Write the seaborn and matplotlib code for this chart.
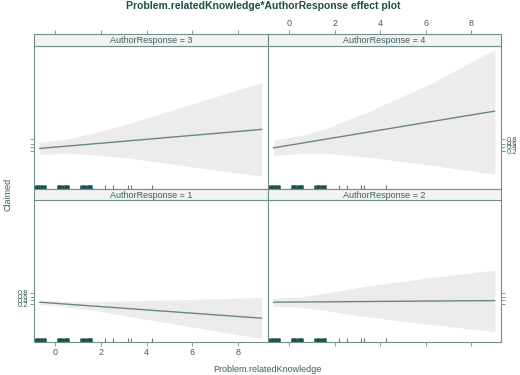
import numpy as np
import pandas as pd
import matplotlib
matplotlib.use("Agg")
import matplotlib.pyplot as plt
import seaborn as sns

# 効果プロットの値 (ロジット尺度で読み取り)
knowledge = [-0.68, 0.5, 1.6, 3.3, 6.2, 9.03]

fit_1 = [-0.87, -1.33, -1.77, -2.44, -3.58, -4.70]
upper_1 = [-0.37, -0.73, -0.77, -0.54, -0.18, 0.24]
lower_1 = [-1.37, -1.93, -2.77, -4.34, -6.98, -9.64]

fit_2 = [-0.87, -0.82, -0.78, -0.71, -0.59, -0.49]
upper_2 = [0.05, 0.45, 1.30, 2.90, 5.00, 6.85]
lower_2 = [-1.80, -2.10, -2.85, -4.30, -6.20, -7.90]

fit_3 = [-0.76, -0.21, 0.30, 1.09, 2.44, 3.77]
upper_3 = [0.65, 1.50, 2.80, 5.30, 10.20, 14.90]
lower_3 = [-2.15, -1.90, -2.20, -3.10, -5.30, -7.35]

fit_4 = [-0.62, 0.45, 1.44, 2.97, 5.59, 8.12]
upper_4 = [1.20, 2.30, 4.00, 7.60, 14.60, 22.80]
lower_4 = [-2.50, -1.90, -1.90, -2.70, -4.70, -6.90]

# ラグ (Problem.relatedKnowledge の観測値)
rug_dense = [-0.86, -0.80, -0.74, -0.68, -0.62, -0.56, -0.50, -0.44,
             0.12, 0.17, 0.22, 0.27, 0.36, 0.42, 0.48, 0.53, 0.58,
             1.15, 1.21, 1.27, 1.33, 1.42, 1.48, 1.53, 1.58]
rug_sparse = [2.20, 2.53, 3.18, 3.30, 4.24]

prob_ticks = [0.2, 0.4, 0.6, 0.8]
x_ticks = [0, 2, 4, 6, 8]

rows = []
for resp, fit, up, lo in [(1, fit_1, upper_1, lower_1), (2, fit_2, upper_2, lower_2),
                          (3, fit_3, upper_3, lower_3), (4, fit_4, upper_4, lower_4)]:
    for k, f, u, l in zip(knowledge, fit, up, lo):
        rows.append({'AuthorResponse': resp, 'knowledge': k, 'fit': f, 'upper': u, 'lower': l})
df = pd.DataFrame(rows)

sns.set_theme(style="white")
plt.rcParams['font.family'] = ['Liberation Sans', 'DejaVu Sans']

frame_col = '#6f8f8a'
text_col = '#3e5f5a'
title_col = '#1e4d48'
line_col = '#6a8681'
band_col = '#ececec'
rug_col = '#1c4f4c'

W, H = 520, 375
fig = plt.figure(figsize=(5.2, 3.75), dpi=100)

def fig_rect(x0, y0, x1, y1):
    return [x0 / W, 1 - y1 / H, (x1 - x0) / W, (y1 - y0) / H]

# (応答, 列, 行)
panels = [(3, 0, 0), (4, 1, 0), (1, 0, 1), (2, 1, 1)]
col_x = [(34, 268), (268, 501)]
row_y = [(46, 189), (200, 342)]
strip_y = [(34, 46), (189, 200)]

y_tick_pos = [np.log(p / (1 - p)) for p in prob_ticks]

for resp, c, r in panels:
    x0, x1 = col_x[c]
    y0, y1 = row_y[r]
    ax = fig.add_axes(fig_rect(x0, y0, x1, y1))
    sub = df[df['AuthorResponse'] == resp]
    ax.fill_between(sub['knowledge'], sub['lower'], sub['upper'], color=band_col, lw=0)
    sns.lineplot(data=sub, x='knowledge', y='fit', ax=ax, color=line_col, lw=1.0)
    sns.rugplot(x=rug_dense, ax=ax, height=0.028, color=rug_col, linewidth=1.8)
    sns.rugplot(x=rug_sparse, ax=ax, height=0.028, color='#5d7f7a', linewidth=0.8)
    ax.set_xlim(-0.92, 9.3)
    ax.set_ylim(-10.4, 23.6)
    ax.set_xlabel('')
    ax.set_ylabel('')
    ax.set_xticks(x_ticks)
    ax.set_yticks(y_tick_pos)
    ax.set_yticklabels([f'{p:.1f}' for p in prob_ticks])
    for s in ax.spines.values():
        s.set_color(frame_col)
        s.set_linewidth(0.8)
    ax.tick_params(axis='both', length=3, width=0.6, color=frame_col,
                   labelcolor=text_col, labelsize=6.5, pad=1.5)
    ax.tick_params(axis='y', labelsize=5.5, pad=1)
    # ラティス風の交互配置
    ax.tick_params(axis='y', left=(c == 0), right=(c == 1),
                   labelleft=(c == 0 and r == 1), labelright=(c == 1 and r == 0))
    ax.tick_params(axis='x', bottom=(r == 1), top=False,
                   labelbottom=(c == 0 and r == 1), labeltop=False)

    sy0, sy1 = strip_y[r]
    sax = fig.add_axes(fig_rect(x0, sy0, x1, sy1))
    sax.set_facecolor('#f2f2f2')
    sax.set_xlim(-0.92, 9.3)
    sax.set_ylim(0, 1)
    sax.set_yticks([])
    sax.set_xticks(x_ticks if r == 0 else [])
    sax.tick_params(axis='x', bottom=False, labelbottom=False, top=(r == 0),
                    labeltop=(r == 0 and c == 1), length=3, width=0.6, color=frame_col,
                    labelcolor=text_col, labelsize=6.5, pad=1.5)
    for s in sax.spines.values():
        s.set_color(frame_col)
        s.set_linewidth(0.8)
    sax.text(0.5, 0.45, f'AuthorResponse = {resp}', transform=sax.transAxes,
             ha='center', va='center', fontsize=6.5, color=text_col)

fig.text(263 / W, 1 - 6 / H, 'Problem.relatedKnowledge*AuthorResponse effect plot',
         ha='center', va='center', fontsize=7.5, fontweight='bold', color=title_col)
fig.text(267 / W, 1 - 370 / H, 'Problem.relatedKnowledge', ha='center', va='center',
         fontsize=6.5, color=text_col)
fig.text(8 / W, 1 - 194 / H, 'Claimed', ha='center', va='center', rotation=90,
         fontsize=6.5, color=text_col)

fig.savefig('out.png', dpi=100)
